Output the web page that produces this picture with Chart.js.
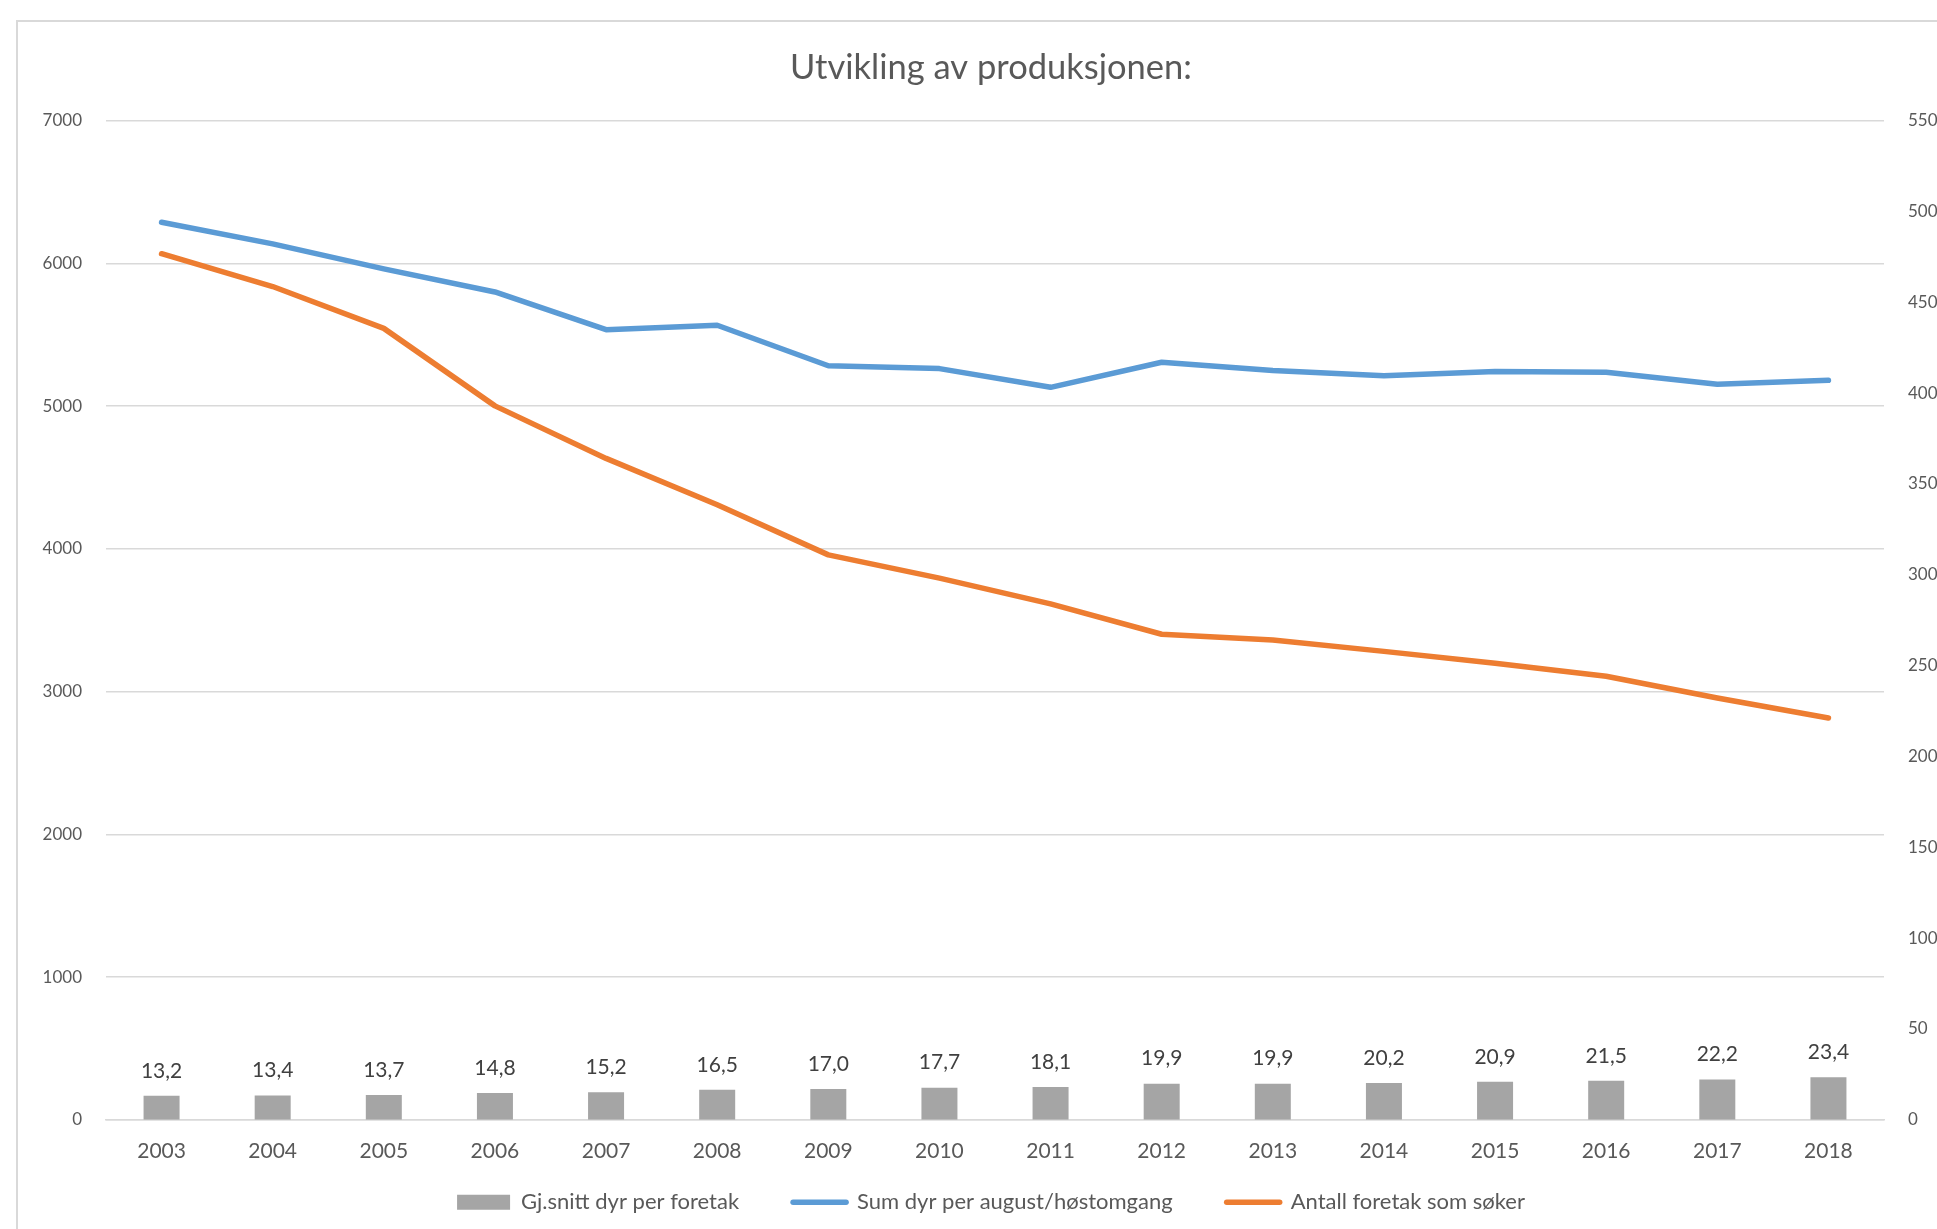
<!DOCTYPE html>
<html><head><meta charset="utf-8">
<script src="https://cdn.jsdelivr.net/npm/chart.js@4"></script>
<style>
html,body{margin:0;padding:0;background:#fff;overflow:hidden;width:1937px;height:1229px;}
#frame{position:absolute;left:16px;top:20px;width:3000px;height:3000px;border:2px solid #d9d9d9;box-sizing:border-box;}
#wrap{position:absolute;left:0;top:0;width:1982px;height:1269px;}
</style></head><body>
<div id="frame"></div>
<div id="wrap"><canvas id="c"></canvas></div>
<script>
const years = ['2003','2004','2005','2006','2007','2008','2009','2010','2011','2012','2013','2014','2015','2016','2017','2018'];
const avgPerFarm = [13.2,13.4,13.7,14.8,15.2,16.5,17.0,17.7,18.1,19.9,19.9,20.2,20.9,21.5,22.2,23.4];
const sumAnimals = [6288,6137,5962,5800,5536,5567,5283,5263,5132,5308,5250,5213,5242,5238,5154,5181];
const farmsApplying = [6068,5838,5545,5002,4634,4309,3958,3795,3615,3402,3361,3282,3199,3108,2955,2815];
const leftTicks = {min:0, max:7000, step:1000};
const rightTicks = {min:0, max:550, step:50};
const labelsText = ['Gj.snitt dyr per foretak','Sum dyr per august/høstomgang','Antall foretak som søker'];
const titleText = 'Utvikling av produksjonen:';

const FONT = 'Lato';
const fmt = v => v.toFixed(1).replace('.', ',');

const barLabels = {
  id: 'barLabels',
  afterDatasetsDraw(chart) {
    const meta = chart.getDatasetMeta(0);
    const ctx = chart.ctx;
    ctx.save();
    ctx.font = '21px ' + FONT;
    ctx.fillStyle = '#404040';
    ctx.textAlign = 'center';
    ctx.textBaseline = 'middle';
    meta.data.forEach((bar, i) => {
      ctx.fillText(fmt(avgPerFarm[i]), bar.x, bar.y - 25);
    });
    ctx.restore();
  }
};

const legendShift = {
  id: 'legendShift',
  afterLayout(chart) {
    const l = chart.legend;
    if (!l) return;
    const d = l.top - (chart.chartArea.bottom + 17.5);
    l.top -= d; l.bottom -= d;
  }
};

new Chart(document.getElementById('c'), {
  type: 'bar',
  data: {
    labels: years,
    datasets: [
      {label: labelsText[0], data: avgPerFarm, yAxisID: 'y1', backgroundColor: '#a5a5a5', borderWidth: 0,
       barPercentage: 0.324, categoryPercentage: 1, order: 3},
      {type: 'line', label: labelsText[1], data: sumAnimals, yAxisID: 'y', borderColor: '#5b9bd5', backgroundColor: '#5b9bd5',
       borderWidth: 5.5, pointRadius: 0, tension: 0, borderCapStyle: 'round', borderJoinStyle: 'round', order: 2},
      {type: 'line', label: labelsText[2], data: farmsApplying, yAxisID: 'y', borderColor: '#ed7d31', backgroundColor: '#ed7d31',
       borderWidth: 5.5, pointRadius: 0, tension: 0, borderCapStyle: 'round', borderJoinStyle: 'round', order: 1}
    ]
  },
  options: {
    responsive: true,
    maintainAspectRatio: false,
    animation: false,
    layout: {padding: {left: 0, right: 0, top: 0, bottom: 0}},
    plugins: {
      tooltip: {enabled: false},
      title: {
        display: true, text: titleText, color: '#595959',
        font: {family: FONT, size: 34.5, weight: 'normal', lineHeight: 1.2},
        padding: {top: 46.8, bottom: 32.5}
      },
      legend: {
        position: 'bottom',
        labels: {
          usePointStyle: true,
          pointStyleWidth: 53,
          boxHeight: 15,
          padding: 54,
          color: '#595959',
          font: {family: FONT, size: 22},
          generateLabels(chart) {
            return chart.data.datasets.map((ds, i) => ({
              text: ds.label,
              fillStyle: ds.backgroundColor,
              strokeStyle: ds.borderColor || ds.backgroundColor,
              lineWidth: ds.type === 'line' ? 5.5 : 0,
              pointStyle: ds.type === 'line' ? 'line' : 'rect',
              lineCap: 'round',
              datasetIndex: i,
              hidden: false,
              fontColor: '#595959'
            }));
          }
        }
      }
    },
    scales: {
      x: {
        grid: {display: false, drawTicks: false},
        border: {display: true, color: '#d9d9d9', width: 1.5},
        ticks: {padding: 19, color: '#595959', maxRotation: 0, autoSkip: false, font: {family: FONT, size: 21}}
      },
      y: {
        position: 'left', min: leftTicks.min, max: leftTicks.max,
        ticks: {stepSize: leftTicks.step, padding: 24, color: '#595959', font: {family: FONT, size: 17},
                callback: v => String(v)},
        grid: {color: '#d9d9d9', lineWidth: 1.5, drawTicks: false},
        border: {display: false},
        afterFit(scale) { scale.width = 106; }
      },
      y1: {
        position: 'right', min: rightTicks.min, max: rightTicks.max,
        ticks: {stepSize: rightTicks.step, padding: 24, color: '#595959', font: {family: FONT, size: 17},
                callback: v => String(v)},
        grid: {display: false, drawTicks: false},
        border: {display: false},
        afterFit(scale) { scale.width = 98; }
      }
    }
  },
  plugins: [barLabels, legendShift]
});
</script>
</body></html>
